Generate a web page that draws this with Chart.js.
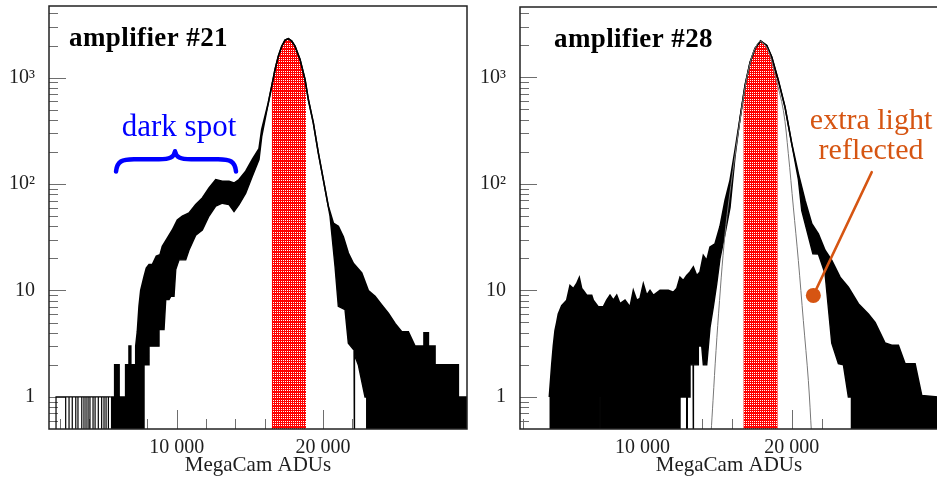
<!DOCTYPE html>
<html><head><meta charset="utf-8">
<script src="https://cdn.jsdelivr.net/npm/chart.js@4.4.1/dist/chart.umd.min.js"></script>
<style>
html,body{margin:0;padding:0;background:#fff;overflow:hidden;width:937px;height:478px;}
#c21{position:absolute;left:0;top:0;}
#c28{position:absolute;left:467px;top:0;}
</style></head><body>
<canvas id="c21" width="470" height="478"></canvas>
<canvas id="c28" width="472" height="478"></canvas>
<script>
// ---------------- data (MegaCam ADUs, counts per bin) ----------------
const xTickValues = [2000,4000,6000,8000,10000,12000,14000,16000,18000,20000,22000,24000,26000,28000];
const xTickLabels = {10000:'10 000', 20000:'20 000'};
const xMajorTicks = [10000, 20000];
const yTickValues = [0.5,0.6,0.7,0.8,0.9,1,2,3,4,5,6,7,8,9,10,20,30,40,50,60,70,80,90,100,200,300,400,500,600,700,800,900,1000,2000,3000,4000];
const yMajorTicks = [1,10,100,1000];
const yTickLabels = {1:'1', 10:'10', 100:'10²', 1000:'10³'};

// amplifier #21 : upper / lower envelope of the noisy histogram
const upper21 = [[5490,1],[5760,1],[5760,2],[6060,2],[6060,1],[6510,1],[6510,2],[6740,2],[6740,3],[6860,3],[6860,1],[6960,1],[6960,2],[7150,2],[7200,3],[7307,4.1],[7423,7.1],[7539,10],[7765,13.5],[7922,16.2],[8107,17.5],[8332,17.5],[8606,21],[8859,21.7],[9016,26],[9358,31],[9699,37],[10041,46],[10383,50],[10841,53.5],[11299,64],[11750,74],[12208,92],[12666,110],[13117,106],[13575,106],[13916,102],[14258,110],[14716,132],[15167,170],[15625,215],[15810,325],[16261,580],[16493,830],[16719,1190],[16944,1590],[17177,1970],[17402,2250],[17628,2320],[17860,2200],[18086,1970],[18428,1480],[18769,960],[18995,622],[19337,376],[19678,196],[20020,110],[20362,62],[20704,43],[21045,40],[21387,32],[21729,22.5],[22071,18],[22645,14.6],[23096,10],[23554,8.8],[24012,7.3],[24463,6.1],[24921,4.9],[25379,4.1],[25830,4.1],[26288,3],[26900,3],[26900,4],[27200,4],[27200,3],[27655,3],[27655,2],[29247,2],[29247,1],[29840,1]];
const lower21 = [[5490,0.3],[7765,0.3],[7765,2],[8107,2],[8107,3],[8790,3],[8790,4.3],[9132,4.3],[9248,8.2],[9474,8.2],[9590,8.8],[9815,8.8],[9932,15.7],[10157,19.4],[10615,19.4],[10841,24],[11299,33],[11750,37],[12208,50],[12666,62],[13117,66],[13575,64],[13916,55],[14258,64],[14716,82],[15167,118],[15625,170],[15810,279],[16261,580],[16493,830],[16719,1190],[16944,1590],[17177,1970],[17402,2250],[17628,2320],[17860,2200],[18086,1970],[18428,1480],[18769,960],[18995,622],[19337,376],[19678,196],[20020,110],[20478,50],[20820,16.8],[21045,7.1],[21503,6.6],[21729,3.2],[22071,2.8],[22120,2.8],[22120,0.3],[22160,0.3],[22160,2.5],[22412,2],[22870,1],[22987,1],[22987,0.3],[29840,0.3]];
const sparseBins21 = [1750,2410,2640,2860,3100,3250,3510,3660,3800,3940,4070,4280,4420,4640,4870,5030,5170,5330];
const sparseLevel21 = 1;
const red21 = [[16493,830],[16719,1190],[16944,1590],[17177,1970],[17402,2250],[17628,2320],[17860,2200],[18086,1970],[18428,1480],[18769,960],[18838,890]];

// amplifier #28
const upper28 = [[3754,1],[3915,2],[4022,3],[4136,4.2],[4250,5],[4357,6],[4585,7.2],[4920,8.1],[5141,11.1],[5362,10.4],[5590,11.6],[5764,13.2],[5925,10.4],[6032,10],[6260,9],[6595,9],[6703,8.1],[7038,7],[7373,7],[7601,8.1],[7822,9],[8043,8.1],[8271,9],[8492,7.5],[8827,8.1],[9162,7],[9383,10],[9611,8.1],[9832,8.4],[10054,11.5],[10281,9],[10503,10],[10724,9],[11173,10],[11394,10],[11729,10],[12064,9.6],[12292,10.4],[12513,13.3],[12734,12.4],[12962,13.8],[13183,14.9],[13405,16.6],[13632,13.8],[13854,14.9],[14075,21.3],[14303,19.1],[14524,25.5],[14859,27.4],[15194,40],[15529,70],[15864,108],[16199,206],[16534,412],[16870,841],[17205,1383],[17540,1872],[17908,2200],[18324,1997],[18659,1552],[19101,937],[19550,526],[19999,239],[20442,125],[20891,70],[21340,42.3],[21782,34],[22231,23.8],[22680,19.1],[23236,13.3],[23793,10.7],[24463,7.5],[25133,6],[25582,5],[26252,3.2],[26702,3.05],[27144,3.05],[27593,2.05],[28263,2.05],[28712,1.03],[29800,1]];
const lower28 = [[3754,0.3],[5240,0.3],[5240,1],[5270,1],[5270,0.3],[5910,0.3],[5910,1],[5940,1],[5940,0.3],[6350,0.3],[6350,1],[6380,1],[6380,0.3],[7135,0.3],[7135,1],[7165,1],[7165,0.3],[12180,0.3],[12180,1],[12215,1],[12215,0.3],[12513,0.3],[12513,1],[12960,1],[12960,0.3],[13000,0.3],[13000,1],[13183,1],[13183,2],[13390,2],[13390,0.3],[13420,0.3],[13420,2],[13740,2],[13740,3],[13968,3],[14075,2],[14303,2],[14524,4.5],[14745,7],[14973,11.5],[15194,20],[15529,34],[15864,60],[16199,180],[16534,412],[16870,841],[17205,1383],[17540,1872],[17908,2200],[18324,1997],[18659,1552],[19101,937],[19550,526],[19999,239],[20442,110],[20670,56],[21415,22.1],[21782,22],[22231,14.4],[22680,3.2],[23125,2.05],[23460,2],[23793,1],[24000,1],[24000,0.3],[29800,0.3]];
const red28 = [[16756,650],[16870,841],[17205,1383],[17540,1872],[17908,2200],[18324,1997],[18659,1552],[19061,1000]];
const gauss28 = [[14591,0.45],[14725,0.93],[14926,2.73],[15161,8.06],[15395,21.3],[15663,50.6],[16199,185],[16534,395],[16870,805],[17205,1353],[17540,1872],[17908,2180],[18412,1794],[18881,1044],[19437,490],[19771,192],[20106,60.6],[20442,19.1],[20777,5.2],[21112,1.43],[21326,0.45]];

// ---------------- helpers ----------------
const toXY = arr => arr.map(p => ({x:p[0], y:p[1]}));
function sparseSteps(bins, level, endX){
  const pts = [];
  bins.forEach(b => { pts.push({x:b, y:level}); pts.push({x:b, y:0.3}); pts.push({x:b, y:level}); });
  pts.push({x:endX, y:level});
  return pts;
}
function makeHatch(){
  const c=document.createElement('canvas'); c.width=4; c.height=7;
  const g=c.getContext('2d');
  g.fillStyle='#ff0000'; g.fillRect(0,0,4,7);
  g.fillStyle='#ffffff';
  for(let y=1;y<7;y++) for(let x=0;x<4;x++){ if(x%2===1 && y%2===1) g.fillRect(x,y,1,1); }
  return g.createPattern(c,'repeat');
}
const SERIF = "'Liberation Serif', 'Times New Roman', serif";
const inkColor = '#1e1e1e';

const inwardTicks = {
  id:'inwardTicks',
  beforeDatasetsDraw(chart){
    const {ctx, chartArea:a, scales:{x,y}} = chart;
    ctx.save(); ctx.strokeStyle='#6e6e6e'; ctx.lineWidth=1;
    ctx.beginPath();
    x.ticks.forEach(t => {
      const px=Math.round(x.getPixelForValue(t.value))+0.5;
      if (px < a.left || px > a.right) return;
      const len = xMajorTicks.includes(t.value)?19:10;
      ctx.moveTo(px,a.bottom); ctx.lineTo(px,a.bottom-len);
    });
    y.ticks.forEach(t => {
      const py=Math.round(y.getPixelForValue(t.value))+0.5;
      if (py < a.top || py > a.bottom) return;
      const len = yMajorTicks.includes(t.value)?17:9;
      ctx.moveTo(a.left,py); ctx.lineTo(a.left+len,py);
    });
    ctx.stroke(); ctx.restore();
  }
};
const frame = {
  id:'frame',
  afterDatasetsDraw(chart){
    const {ctx, chartArea:a} = chart;
    ctx.save(); ctx.strokeStyle='#222'; ctx.lineWidth=1.5;
    ctx.strokeRect(a.left, a.top, a.right-a.left, a.bottom-a.top);
    ctx.restore();
  }
};

function panel(canvasId, opt){
  const ds = [
    {label:'upper', data:toXY(opt.upper), borderColor:'#000', borderWidth:1.6, backgroundColor:'#000', fill:'+1', pointRadius:0, order:2},
    {label:'lower', data:toXY(opt.lower), borderColor:'#000', borderWidth:1.4, fill:false, pointRadius:0, order:2},
    {label:'red', data:toXY(opt.red), borderWidth:0, borderColor:'rgba(0,0,0,0)', backgroundColor:makeHatch(), fill:'start', pointRadius:0, order:5},
  ];
  if (opt.sparse) ds.push({label:'sparse', data:opt.sparse, borderColor:'#000', borderWidth:1.2, fill:false, pointRadius:0, order:1});
  if (opt.gauss) ds.push({label:'fit', data:toXY(opt.gauss), borderColor:'#777', borderWidth:1, fill:false, pointRadius:0, tension:0.35, order:0});
  return new Chart(document.getElementById(canvasId), {
    type:'line',
    data:{datasets:ds},
    options:{
      responsive:false, animation:false, devicePixelRatio:1,
      layout:{padding:{left:0, top:opt.top, right:opt.padRight, bottom:0}},
      plugins:{legend:{display:false}, tooltip:{enabled:false}},
      elements:{line:{tension:0}},
      scales:{
        x:{type:'linear', min:opt.xmin, max:opt.xmax,
          afterBuildTicks: s => { s.ticks = xTickValues.map(v=>({value:v})); },
          ticks:{callback: v => xTickLabels[v] || '', autoSkip:false, maxRotation:0, padding:7, color:inkColor, font:{family:SERIF, size:20}},
          grid:{display:false, drawTicks:false}, border:{display:false},
          title:{display:true, text:'MegaCam ADUs', color:inkColor, font:{family:SERIF, size:21}, padding:0},
          afterFit: s => { s.height = 49; s.paddingLeft = 0; s.paddingRight = 0; }
        },
        y:{type:'logarithmic', min:opt.ymin, max:opt.ymax,
          afterBuildTicks: s => { s.ticks = yTickValues.map(v=>({value:v})); },
          ticks:{callback: v => yTickLabels[v] || '', autoSkip:false, padding:14, color:inkColor, font:{family:SERIF, size:20}},
          grid:{display:false, drawTicks:false}, border:{display:false},
          afterFit: s => { s.width = opt.yw; s.paddingTop = 0; s.paddingBottom = 0; }
        }
      }
    },
    plugins:[inwardTicks, frame, opt.notes]
  });
}

// ---------------- annotations (placed in data coordinates) ----------------
const notes21 = {
  id:'notes21',
  afterDraw(chart){
    const {ctx, scales:{x,y}} = chart;
    ctx.save();
    ctx.fillStyle='#000'; ctx.font="bold 27px "+SERIF; ctx.textAlign='left'; ctx.textBaseline='alphabetic';
    try{ ctx.letterSpacing='0.4px'; }catch(e){}
    ctx.fillText('amplifier #21', x.getPixelForValue(2639), y.getPixelForValue(1963));
    try{ ctx.letterSpacing='0px'; }catch(e){}
    ctx.fillStyle='#0000ff'; ctx.font="31px "+SERIF; ctx.textAlign='center';
    ctx.fillText('dark spot', x.getPixelForValue(10157), y.getPixelForValue(281));
    // brace
    const Lx=x.getPixelForValue(5851), Rx=x.getPixelForValue(14053), Cx=x.getPixelForValue(9884);
    const Ey=y.getPixelForValue(131), By=y.getPixelForValue(171), Cy=y.getPixelForValue(203);
    ctx.strokeStyle='#0000ff'; ctx.lineWidth=4.5; ctx.lineJoin='round'; ctx.lineCap='round';
    ctx.beginPath();
    ctx.moveTo(Lx, Ey);
    ctx.bezierCurveTo(Lx+1, By+2, Lx+6, By, Lx+18, By);
    ctx.lineTo(Cx-16, By);
    ctx.bezierCurveTo(Cx-5, By, Cx-1, By-2, Cx, Cy);
    ctx.bezierCurveTo(Cx+1, By-2, Cx+5, By, Cx+16, By);
    ctx.lineTo(Rx-18, By);
    ctx.bezierCurveTo(Rx-6, By, Rx-1, By+2, Rx, Ey);
    ctx.stroke();
    ctx.restore();
  }
};
const notes28 = {
  id:'notes28',
  afterDraw(chart){
    const {ctx, scales:{x,y}} = chart;
    ctx.save();
    ctx.fillStyle='#000'; ctx.font="bold 27px "+SERIF; ctx.textAlign='left'; ctx.textBaseline='alphabetic';
    try{ ctx.letterSpacing='0.4px'; }catch(e){}
    ctx.fillText('amplifier #28', x.getPixelForValue(4069), y.getPixelForValue(1914));
    try{ ctx.letterSpacing='0px'; }catch(e){}
    const orange='#d65512';
    ctx.fillStyle=orange; ctx.font="30px "+SERIF; ctx.textAlign='center';
    ctx.fillText('extra light', x.getPixelForValue(25314), y.getPixelForValue(330));
    ctx.fillText('reflected', x.getPixelForValue(25314), y.getPixelForValue(172.5));
    const x1=x.getPixelForValue(25361), y1=y.getPixelForValue(129);
    const x2=x.getPixelForValue(21447), y2=y.getPixelForValue(8.98);
    ctx.strokeStyle=orange; ctx.lineWidth=2.5; ctx.lineCap='round';
    ctx.beginPath(); ctx.moveTo(x1,y1); ctx.lineTo(x2,y2); ctx.stroke();
    ctx.beginPath(); ctx.arc(x2,y2,7.5,0,Math.PI*2); ctx.fill();
    ctx.restore();
  }
};

panel('c21', {upper:upper21, lower:lower21, red:red21, sparse:sparseSteps(sparseBins21, sparseLevel21, upper21[0][0]),
  xmin:1270, xmax:29840, ymin:0.5, ymax:4700, top:6, padRight:3, yw:49, notes:notes21});
panel('c28', {upper:upper28, lower:lower28, red:red28, gauss:gauss28,
  xmin:1790, xmax:29800, ymin:0.5, ymax:4580, top:7, padRight:1, yw:53, notes:notes28});
</script>
</body></html>
